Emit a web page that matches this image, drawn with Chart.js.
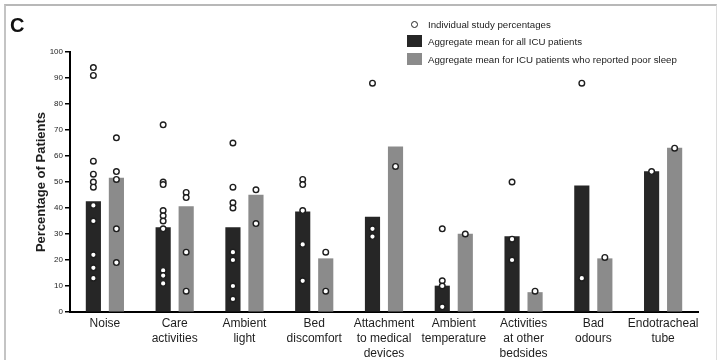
<!DOCTYPE html>
<html>
<head>
<meta charset="utf-8">
<script src="https://cdn.jsdelivr.net/npm/chart.js@4/dist/chart.umd.min.js"></script>
<style>
  html, body { margin: 0; padding: 0; background: #fff; }
  #wrap { position: relative; width: 721px; height: 360px; overflow: hidden; font-family: "Liberation Sans", Arial, sans-serif; }
  #frame { position: absolute; left: 4px; top: 4px; width: 710px; height: 380px;
           border-top: 2px solid #b8b8b8; border-left: 2px solid #c4c4c4; border-right: 1px solid #dcdcdc; }
  #panel { position: absolute; left: 10px; top: 14px; font-weight: bold; font-size: 20px; color: #111; }
  #chart { position: absolute; left: 0; top: 0; }
  .lg-row { position: absolute; left: 407px; height: 14px; display: flex; align-items: center; font-size: 9.7px; color: #222; white-space: nowrap; }
  .lg-mark { width: 15px; height: 12px; margin-right: 6px; flex: none; }
  .lg-dot { width: 5px; height: 5px; border: 1.5px solid #222; border-radius: 50%; background: #fff; margin: 0 10px 0 4px; flex: none; }
</style>
</head>
<body>
<div id="wrap">
  <div id="frame"></div>
  <canvas id="chart" width="721" height="360"></canvas>
  <div id="panel">C</div>
  <div id="legend"></div>
</div>
<script>
// Sleep-disrupting factors in the ICU
const categories = [
  ["Noise"],
  ["Care", "activities"],
  ["Ambient", "light"],
  ["Bed", "discomfort"],
  ["Attachment", "to medical", "devices"],
  ["Ambient", "temperature"],
  ["Activities", "at other", "bedsides"],
  ["Bad", "odours"],
  ["Endotracheal", "tube"]
];

// Aggregate means (%)
const meanAllPatients = [42.5, 32.5, 32.5, 38.5, 36.5, 10, 29, 48.5, 54];
const meanPoorSleep = [51.5, 40.5, 45, 20.5, 63.5, 30, 7.5, 20.5, 63];

// Individual study percentages, per factor
const studiesAllPatients = [
  [94, 91, 58, 53, 50, 48, 41, 35, 22, 17, 13],
  [72, 50, 49, 39, 37, 35, 32, 16, 14, 11],
  [65, 48, 42, 40, 23, 20, 10, 5],
  [51, 49, 39, 26, 12],
  [88, 32, 29],
  [32, 12, 10, 2],
  [50, 28, 20],
  [88, 13],
  [54]
];
const studiesPoorSleep = [
  [67, 54, 51, 32, 19],
  [46, 44, 23, 8],
  [47, 34],
  [23, 8],
  [56],
  [30],
  [8],
  [21],
  [63]
];

const yTicks = [0, 10, 20, 30, 40, 50, 60, 70, 80, 90, 100];

const DARK = "#262626";
const GREY = "#8b8b8b";
const INK = "#1e1e1e";

// Half the spacing between the two bars of a group, in category units
const GROUP_SHIFT = 0.165;
const BAR_WIDTH = 14.5;

function barPoints(values, shift) {
  return values.map((v, i) => ({ x: i + shift, y: v }));
}
function studyPoints(groups, shift) {
  const pts = [];
  groups.forEach((vals, i) => vals.forEach(v => pts.push({ x: i + shift, y: v })));
  return pts;
}

const barStyle = {
  type: "bar",
  xAxisID: "xs",
  grouped: false,
  barThickness: BAR_WIDTH,
  maxBarThickness: BAR_WIDTH,
  borderWidth: 0,
  order: 1
};

const pointStyle = {
  type: "scatter",
  xAxisID: "xs",
  pointStyle: "circle",
  pointRadius: 2.8,
  pointBorderWidth: 1.4,
  pointBorderColor: INK,
  pointBackgroundColor: "#ffffff",
  order: 0
};

new Chart(document.getElementById("chart"), {
  type: "bar",
  data: {
    labels: categories,
    datasets: [
      Object.assign({ label: "Aggregate mean for all ICU patients", data: barPoints(meanAllPatients, -GROUP_SHIFT),
                      backgroundColor: DARK }, barStyle),
      Object.assign({ label: "Aggregate mean for ICU patients who reported poor sleep", data: barPoints(meanPoorSleep, GROUP_SHIFT),
                      backgroundColor: GREY }, barStyle),
      Object.assign({ label: "Individual study percentages", data: studyPoints(studiesAllPatients, -GROUP_SHIFT) }, pointStyle),
      Object.assign({ label: "Individual study percentages (poor sleep)", data: studyPoints(studiesPoorSleep, GROUP_SHIFT) }, pointStyle)
    ]
  },
  options: {
    responsive: false,
    animation: false,
    devicePixelRatio: 1,
    layout: { padding: { left: 0, right: 23, top: 52, bottom: 0 } },
    plugins: { legend: { display: false }, tooltip: { enabled: false } },
    scales: {
      x: {
        type: "category",
        offset: true,
        grid: { display: false, drawTicks: false },
        border: { display: true, color: "#000", width: 2 },
        ticks: { autoSkip: false, maxRotation: 0, padding: 4, color: INK,
                 font: { family: "'Liberation Sans', Arial, sans-serif", size: 12, lineHeight: 1.25 } },
        afterFit: s => { s.height = 48; }
      },
      // index axis for bars and study points, same span as the category bands
      xs: { type: "linear", min: -0.5, max: categories.length - 0.5, offset: false, display: false },
      y: {
        min: 0, max: 100,
        afterBuildTicks: s => { s.ticks = yTicks.map(v => ({ value: v })); },
        grid: { display: true, drawOnChartArea: false, drawTicks: true, tickLength: 5, color: "#000", lineWidth: 1.5 },
        border: { display: true, color: "#000", width: 2 },
        ticks: { padding: 2, color: INK, font: { family: "'Liberation Sans', Arial, sans-serif", size: 8 } },
        title: { display: true, text: "Percentage of Patients", color: INK,
                 font: { family: "'Liberation Sans', Arial, sans-serif", size: 13, weight: "bold" },
                 padding: { top: 34, bottom: 0 } },
        afterFit: s => { s.width = 70; }
      }
    }
  }
});

// Legend
const legendItems = [
  { kind: "dot", text: "Individual study percentages", top: 17 },
  { kind: "box", color: DARK, text: "Aggregate mean for all ICU patients", top: 34 },
  { kind: "box", color: GREY, text: "Aggregate mean for ICU patients who reported poor sleep", top: 52 }
];
const legend = document.getElementById("legend");
legendItems.forEach(item => {
  const row = document.createElement("div");
  row.className = "lg-row";
  row.style.top = item.top + "px";
  const mark = document.createElement("span");
  if (item.kind === "dot") {
    mark.className = "lg-dot";
  } else {
    mark.className = "lg-mark";
    mark.style.background = item.color;
  }
  const label = document.createElement("span");
  label.textContent = item.text;
  row.appendChild(mark);
  row.appendChild(label);
  legend.appendChild(row);
});
</script>
</body>
</html>
